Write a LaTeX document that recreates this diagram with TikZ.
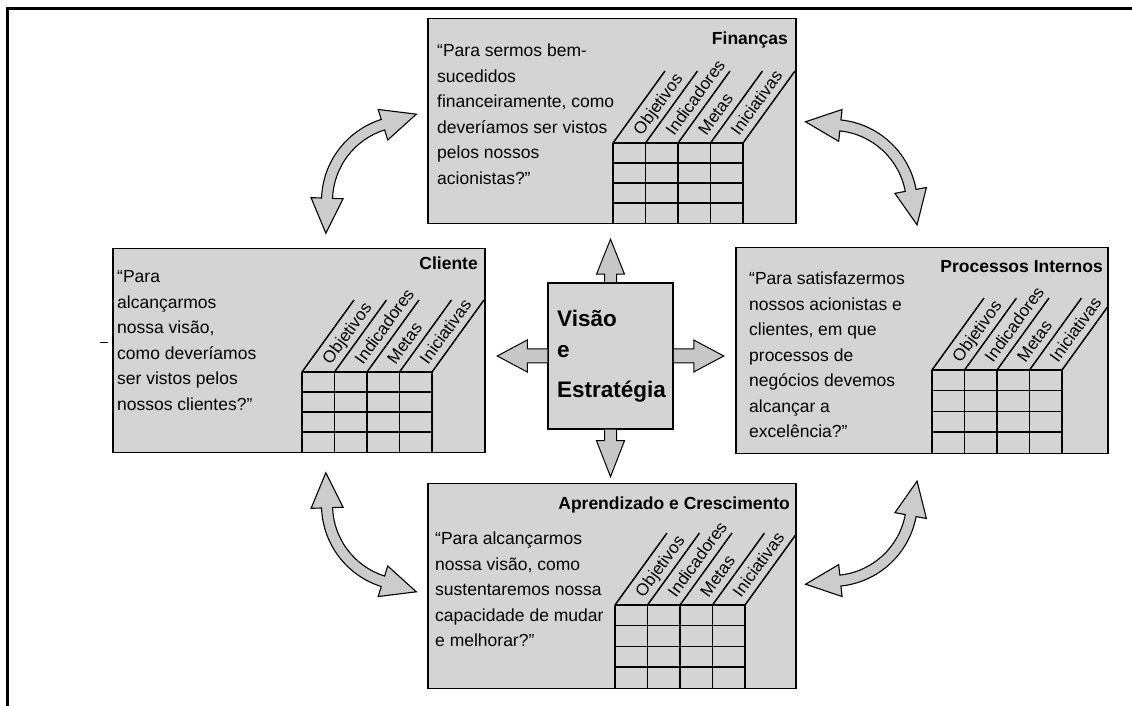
\documentclass[tikz,border=0pt]{standalone}
\usepackage{fontspec}
\setmainfont{Liberation Sans}
\usetikzlibrary{calc}

\tikzset{
  panel/.style={draw=black, line width=1.5pt, fill=black!17, rectangle, inner sep=0pt, anchor=north west},
  body/.style={inner sep=0pt, anchor=base west, font=\fontsize{17.5}{25.5}\selectfont},
  heading/.style={inner sep=0pt, anchor=base east, font=\fontsize{17.5}{21}\selectfont\bfseries},
  coretext/.style={inner sep=0pt, anchor=base west, font=\fontsize{22.5}{27}\selectfont\bfseries},
  colhead/.style={inner sep=0pt, anchor=base west, rotate=54, font=\fontsize{17}{20}\selectfont},
  gridline/.style={line width=1.5pt},
  pointer/.style={draw=black, line width=1pt, fill=black!22, line join=miter},
  bend arrow/.style={draw=black, line width=1.1pt, fill=black!20, line join=miter},
}

% table with slanted column headings, clipped to its panel
\newcommand\scoregrid[4]{% #1 left x, #2 top y, #3 bottom y, #4 panel
  \begin{scope}
    \clip (#4.south west) rectangle (#4.north east);
    \foreach \i in {0,...,4} {
      \draw[gridline] ({#1+32.5*\i},#2) -- ({#1+32.5*\i},#3);
      \draw[gridline] ({#1+32.5*\i},#2) -- ++(52,72);
    }
    \foreach \j in {0,...,3}
      \draw[gridline] (#1,{#2-(#2-#3)*\j/4}) -- ++(130,0);
    \foreach \t [count=\k] in {Objetivos,Indicadores,Metas,Iniciativas}
      \node[colhead] (#4h\k) at ($({#1+32.5*\k},#2)+(54:3)+(144:7)$) {\t};
  \end{scope}
}

% curved two-headed arrow on a circle of radius 80 around #1
\newcommand\swingarrow[3]{% #1 centre, #2 start angle, #3 end angle
  \pgfmathsetmacro\swA{#2-90}%
  \pgfmathsetmacro\swB{#3+90}%
  \filldraw[bend arrow]
    ($(#1)+(#2:85.5)$) arc[start angle=#2, end angle=#3, radius=85.5]
    -- ($(#1)+(#3:96)$) -- ($(#1)+(#3:80)+(\swB:35)$) -- ($(#1)+(#3:64)$)
    -- ($(#1)+(#3:74.5)$) arc[start angle=#3, end angle=#2, radius=74.5]
    -- ($(#1)+(#2:64)$) -- ($(#1)+(#2:80)+(\swA:35)$) -- ($(#1)+(#2:96)$) -- cycle;
}

\begin{document}
\begin{tikzpicture}[x=1pt,y=1pt]
\useasboundingbox (0,0) rectangle (1132,706);

% page frame (top and left rules)
\draw[line width=3pt] (6,697.5) -- (1132,697.5);
\draw[line width=3pt] (7.5,699) -- (7.5,0);
\draw[line width=1pt] (100,363.5) -- (108,363.5);

% four perspective panels
\node[panel, minimum width=368pt, minimum height=205pt] (fin) at (427,688) {};
\node[panel, minimum width=372pt, minimum height=204pt] (cli) at (112,458) {};
\node[panel, minimum width=372pt, minimum height=206pt] (pro) at (735,459) {};
\node[panel, minimum width=368pt, minimum height=205pt] (apr) at (427,223) {};

% central box
\node[panel, anchor=center, minimum width=125pt, minimum height=146pt] (core) at (610.5,350) {};
\node[coretext] (coreA) at (557,379) {Visão};
\node[coretext] (coreB) at (557,348) {e};
\node[coretext] (coreC) at (557,308) {Estratégia};

% block arrows leaving the central box
\filldraw[pointer] ($(core.north)+(-6,0)$) -- ($(core.north)+(-6,8)$) -- ($(core.north)+(-14,8)$)
  -- ($(core.north)+(0,43)$) -- ($(core.north)+(14,8)$) -- ($(core.north)+(6,8)$) -- ($(core.north)+(6,0)$);
\filldraw[pointer] ($(core.south)+(-6,0)$) -- ($(core.south)+(-6,-11)$) -- ($(core.south)+(-14,-11)$)
  -- ($(core.south)+(0,-47)$) -- ($(core.south)+(14,-11)$) -- ($(core.south)+(6,-11)$) -- ($(core.south)+(6,0)$);
\filldraw[pointer] ($(core.east)+(0,-7)$) -- ($(core.east)+(20,-7)$) -- ($(core.east)+(20,-16)$)
  -- ($(core.east)+(50,0)$) -- ($(core.east)+(20,16)$) -- ($(core.east)+(20,7)$) -- ($(core.east)+(0,7)$);
\filldraw[pointer] ($(core.west)+(0,-7)$) -- ($(core.west)+(-20,-7)$) -- ($(core.west)+(-20,-16)$)
  -- ($(core.west)+(-50,0)$) -- ($(core.west)+(-20,16)$) -- ($(core.west)+(-20,7)$) -- ($(core.west)+(0,7)$);

% headings
\node[heading] (finT) at (788,661) {Finanças};
\node[heading] (cliT) at (478,436) {Cliente};
\node[heading] (proT) at (1103,433) {Processos Internos};
\node[heading] (aprT) at (790,196) {Aprendizado e Crescimento};

% questions
\node[body] (finQ) at (437,649) {\begin{tabular}[t]{@{}l@{}}“Para sermos bem-\\sucedidos\\financeiramente, como\\deveríamos ser vistos\\pelos nossos\\acionistas?”\end{tabular}};
\node[body] (cliQ) at (117,423) {\begin{tabular}[t]{@{}l@{}}“Para\\alcançarmos\\nossa visão,\\como deveríamos\\ser vistos pelos\\nossos clientes?”\end{tabular}};
\node[body] (proQ) at (749,421) {\begin{tabular}[t]{@{}l@{}}“Para satisfazermos\\nossos acionistas e\\clientes, em que\\processos de\\negócios devemos\\alcançar a\\excelência?”\end{tabular}};
\node[body] (aprQ) at (435,161) {\begin{tabular}[t]{@{}l@{}}“Para alcançarmos\\nossa visão, como\\sustentaremos nossa\\capacidade de mudar\\e melhorar?”\end{tabular}};

% tables
\scoregrid{613}{563}{483}{fin}
\scoregrid{302}{334}{254}{cli}
\scoregrid{932}{336}{253}{pro}
\scoregrid{615}{101}{18}{apr}

% curved two-way arrows between neighbouring panels
\coordinate (swingNW) at (407,505);
\coordinate (swingNE) at (832,501);
\coordinate (swingSW) at (407,201);
\coordinate (swingSE) at (832,205);
\swingarrow{swingNW}{107.5}{178}
\swingarrow{swingNE}{10.5}{84}
\swingarrow{swingSW}{182}{252.5}
\swingarrow{swingSE}{-84}{-10.5}
\end{tikzpicture}
\end{document}
